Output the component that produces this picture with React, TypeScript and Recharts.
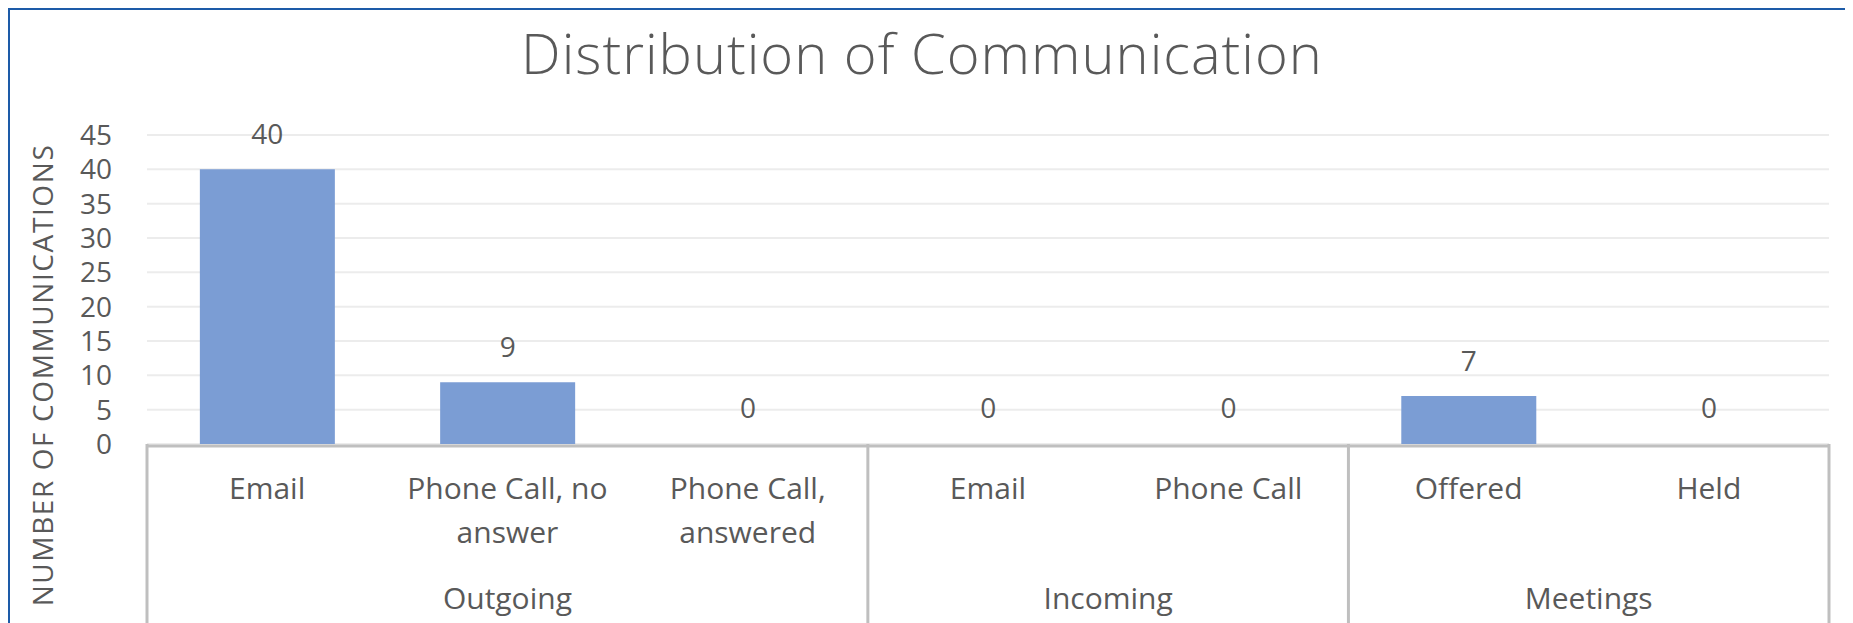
import React from 'react';
import { BarChart, Bar, Cell, XAxis, YAxis, CartesianGrid, LabelList } from 'recharts';

// two-level category axis: item labels (pre-wrapped) and the groups they belong to
const categoryLabels: string[][] = [
  ['Email'],
  ['Phone Call, no', 'answer'],
  ['Phone Call,', 'answered'],
  ['Email'],
  ['Phone Call'],
  ['Offered'],
  ['Held'],
];
const counts = [40, 9, 0, 0, 0, 7, 0];
const groupNames = ['Outgoing', 'Incoming', 'Meetings'];
const groupSizes = [3, 2, 2];
const yTicks = [0, 5, 10, 15, 20, 25, 30, 35, 40, 45];

const TEXT = '#595959';
const FONT = '"Open Sans", "Noto Sans", sans-serif';
const LINE = '#bfbfbf';
const BAR = '#7b9dd4';

// slot = centre of the category in "category units", used by the helper number axes
const chartData = categoryLabels.map((lines, i) => ({
  id: `c${i}`,
  slot: i + 0.5,
  count: counts[i],
}));

// boundaries between groups and the middle of each group, in category units
const groupEdges = groupSizes.reduce<number[]>((acc, n) => [...acc, acc[acc.length - 1] + n], [0]);
const groupCenters = groupSizes.map((n, i) => groupEdges[i] + n / 2);
const total = groupEdges[groupEdges.length - 1];

function CategoryTick({ x, y, index }: any) {
  const lines = categoryLabels[index] ?? [];
  return (
    <g>
      {lines.map((line, i) => (
        <text key={i} x={x} y={y + 53 + i * 44} textAnchor="middle" fill={TEXT} fontSize={30} fontFamily={FONT}>
          {line}
        </text>
      ))}
    </g>
  );
}

function GroupTick({ x, y, index }: any) {
  return (
    <text x={x} y={y + 164} textAnchor="middle" fill={TEXT} fontSize={30} fontFamily={FONT}>
      {groupNames[index]}
    </text>
  );
}

function ValueLabel({ x, y, width, value }: any) {
  return (
    <text x={x + width / 2} y={y - 25} textAnchor="middle" fill={TEXT} fontSize={28} fontFamily={FONT}>
      {String(value)}
    </text>
  );
}

export default function App() {
  return (
    <div
      style={{
        position: 'relative',
        width: 1839,
        height: 613,
        borderTop: '2px solid #1d5ba8',
        borderLeft: '2px solid #1d5ba8',
        borderRight: '2px solid #1d5ba8',
        background: '#fff',
      }}
    >
      <BarChart
        width={1839}
        height={613}
        data={chartData}
        margin={{ top: 125, right: 20, bottom: 0, left: 0 }}
        barCategoryGap="22%"
      >
        <CartesianGrid vertical={false} xAxisId="c" stroke="#ececec" strokeWidth={2} />
        <YAxis
          width={137}
          domain={[0, 45]}
          ticks={yTicks}
          interval={0}
          axisLine={false}
          tickLine={false}
          tickSize={0}
          tickMargin={35}
          tick={{ fill: TEXT, fontSize: 28, fontFamily: FONT }}
        />
        {/* group separators drawn as long tick lines */}
        <XAxis
          xAxisId="a"
          dataKey="slot"
          type="number"
          domain={[0, total]}
          allowDataOverflow
          ticks={groupEdges}
          interval={0}
          height={1}
          axisLine={false}
          tickSize={179}
          tickLine={{ stroke: LINE, strokeWidth: 3 }}
          tick={() => <g />}
        />
        <XAxis
          xAxisId="b"
          dataKey="slot"
          type="number"
          domain={[0, total]}
          allowDataOverflow
          ticks={groupCenters}
          interval={0}
          height={1}
          axisLine={false}
          tickLine={false}
          tickSize={0}
          tickMargin={0}
          tick={<GroupTick />}
        />
        <XAxis
          xAxisId="c"
          dataKey="id"
          height={177}
          interval={0}
          axisLine={{ stroke: LINE, strokeWidth: 3 }}
          tickLine={false}
          tickSize={0}
          tickMargin={0}
          tick={<CategoryTick />}
        />
        {/* minPointSize keeps the zero bars (and their "0" labels) in the layout; they are left unfilled */}
        <Bar xAxisId="c" dataKey="count" minPointSize={1} isAnimationActive={false}>
          {chartData.map((d) => (
            <Cell key={d.id} fill={d.count > 0 ? BAR : 'none'} />
          ))}
          <LabelList dataKey="count" content={<ValueLabel />} />
        </Bar>
      </BarChart>
      <svg
        width={1839}
        height={613}
        style={{ position: 'absolute', left: 0, top: 0, pointerEvents: 'none' }}
      >
        <text
          x={912}
          y={64}
          textAnchor="middle"
          fill={TEXT}
          fontSize={56}
          fontWeight={300}
          letterSpacing={1}
          fontFamily={FONT}
        >
          Distribution of Communication
        </text>
        <text
          x={0}
          y={0}
          transform="translate(43, 365) rotate(-90)"
          textAnchor="middle"
          fill={TEXT}
          fontSize={28}
          letterSpacing={1.6}
          fontFamily={FONT}
        >
          NUMBER OF COMMUNICATIONS
        </text>
      </svg>
    </div>
  );
}
